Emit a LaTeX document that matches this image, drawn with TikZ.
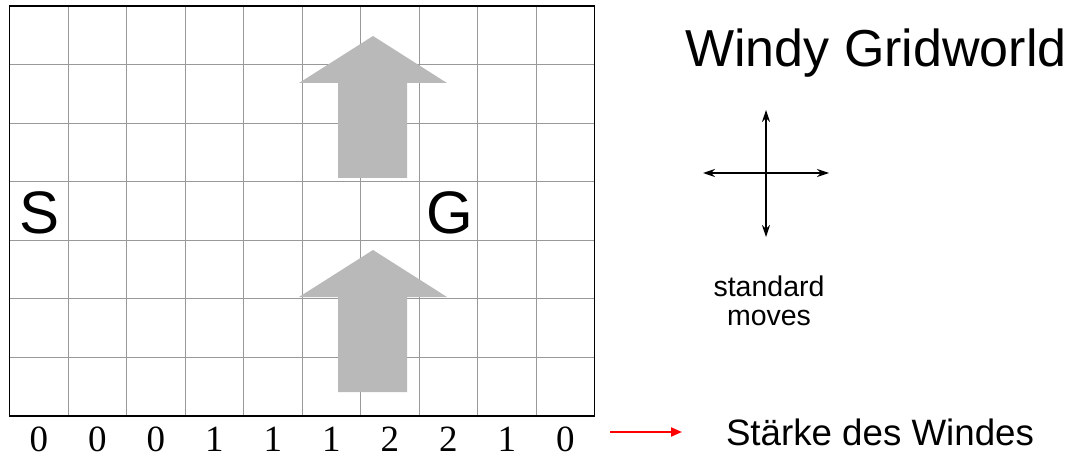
\documentclass[tikz,border=0pt]{standalone}
\usepackage{fontspec}
\setmainfont{Liberation Sans}
\newfontfamily\windnum{Liberation Serif}
\usepackage{tikz}
\usetikzlibrary{arrows.meta, positioning}

\definecolor{windgray}{RGB}{185,185,185}

\begin{document}
\begin{tikzpicture}[
  x=1pt, y=-1pt,
  gridline/.style={draw=gray!80, line width=0.9pt},
  frame/.style={draw=black, line width=1.6pt},
  windarrow/.style={fill=windgray},
  move/.style={-{Stealth[length=12pt, width=8pt]}, line width=1.2pt},
  strength/.style={-{Triangle[length=11pt, width=9pt]}, red, line width=2pt},
  cell/.style={anchor=base, font=\fontsize{60}{70}\selectfont},
  wind/.style={anchor=base, inner sep=0pt, font=\windnum\fontsize{37}{44}\selectfont}
]
\useasboundingbox (0,0) rectangle (1071,457);

% Grid
\foreach \i in {1,...,9}
  \draw[gridline] ({9.5+58.5*\i},6) -- ({9.5+58.5*\i},416);
\foreach \j in {1,...,6}
  \draw[gridline] (9.5,{6+58.57*\j}) -- (594.5,{6+58.57*\j});

% Wind arrows
\fill[windarrow] (338,178) -- (338,83) -- (299,83) -- (373,36) -- (447,83) -- (407,83) -- (407,178) -- cycle;
\fill[windarrow] (338,392) -- (338,297) -- (299,297) -- (373,250) -- (447,297) -- (407,297) -- (407,392) -- cycle;

\draw[frame] (9.5,6) rectangle (594.5,416);

% Start and goal
\node[cell] (start) at (40,234) {S};
\node[cell] (goal) at (450,234) {G};

% Wind strength per column
\foreach \w [count=\i from 0] in {0,0,0,1,1,1,2,2,1,0}
  \node[wind] (w\i) at ({9.5+58.5*(\i+0.5)},451) {\w};

% Title
\node[anchor=base, font=\fontsize{52}{62}\selectfont] (title) at (876,67) {Windy Gridworld};

% Standard moves
\coordinate (moves) at (766,173);
\coordinate (mup) at (766,110);
\coordinate (mdown) at (766,237);
\coordinate (mleft) at (703,173);
\coordinate (mright) at (829,173);
\draw[move] (moves) -- (mup);
\draw[move] (moves) -- (mdown);
\draw[move] (moves) -- (mleft);
\draw[move] (moves) -- (mright);
\node[anchor=base, align=center, font=\fontsize{28.5}{29}\selectfont] (stdmoves) at (769,325) {standard\\moves};

% Legend
\coordinate (legtail) at (610,432);
\coordinate (legtip) at (682,432);
\draw[strength] (legtail) -- (legtip);
\node[anchor=base, font=\fontsize{36.7}{44}\selectfont] (legend) at (880,445) {Stärke des Windes};

\end{tikzpicture}
\end{document}
